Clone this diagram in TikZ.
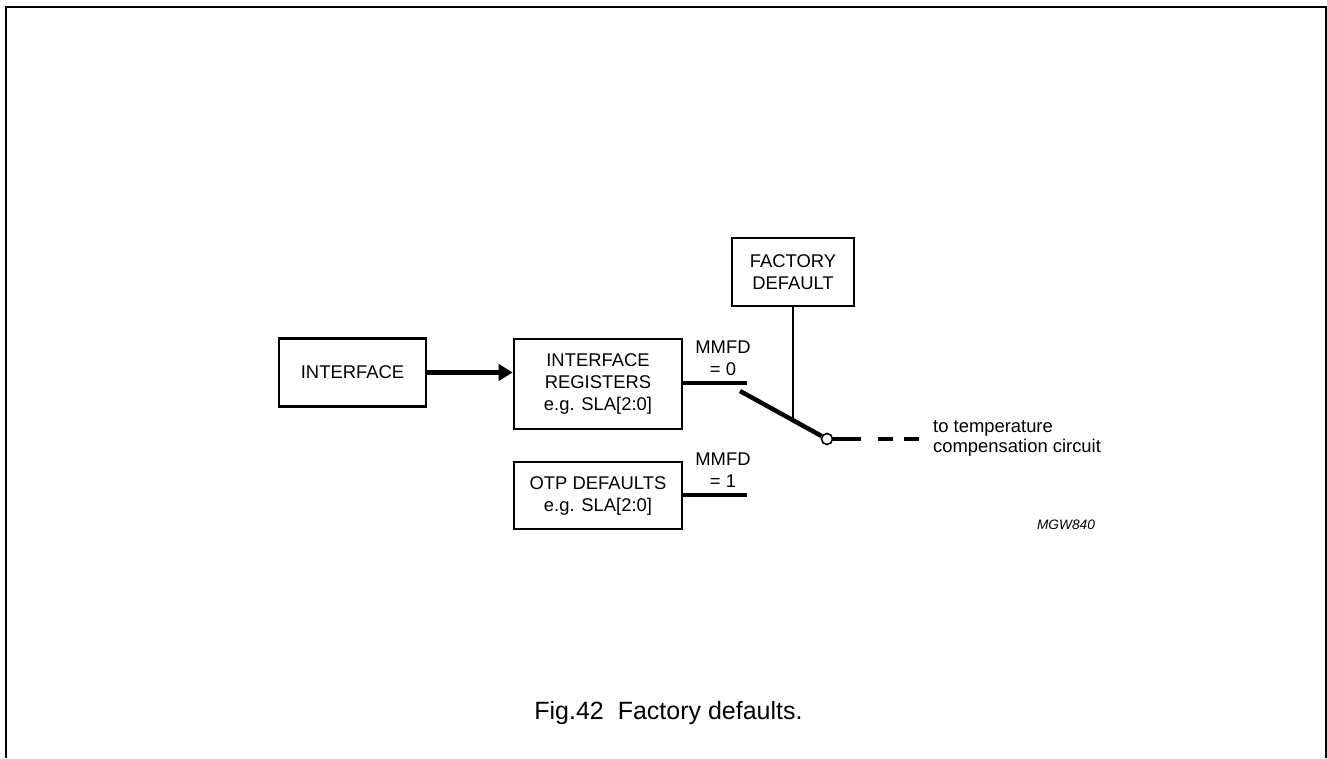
\documentclass[tikz,border=0pt]{standalone}
\usepackage{fontspec}
\setmainfont{Liberation Sans}
\usetikzlibrary{arrows.meta}
\begin{document}
\begin{tikzpicture}
% Factory defaults block diagram, one unit per pixel
\def\pxsz{1pt}
\providecommand{\fdTextSize}{\fontsize{18.4}{22}\selectfont}
\providecommand{\fdBoxLineWidth}{2.6pt}
\providecommand{\fdWireLineWidth}{4.5pt}
\tikzset{
  fdbox/.style={draw, line width=\fdBoxLineWidth, inner sep=0pt, align=center, font=\fdTextSize},
  fdlabel/.style={inner sep=0pt, align=center, font=\fdTextSize},
  fdwire/.style={line width=\fdWireLineWidth},
}
\begin{scope}[x=\pxsz, y=-\pxsz, line cap=butt, line join=miter]
  \useasboundingbox (0,0) rectangle (1327,758);
  % Page frame (open at the bottom)
  \draw[line width=1.5pt] (6,758) -- (6,7) -- (1326,7) -- (1326,758);
  % Blocks
  \node[fdbox, minimum width=147, minimum height=68] (iface) at (352.5,372.5) {INTERFACE};
  \node[fdbox, minimum width=168, minimum height=90] (ifregs) at (598,384) {INTERFACE\\REGISTERS\\e.g. SLA[2:0]};
  \node[fdbox, minimum width=168, minimum height=67] (otpdef) at (598,495.5) {OTP DEFAULTS\\e.g. SLA[2:0]};
  \node[fdbox, minimum width=122, minimum height=68] (facdef) at (793,272) {FACTORY\\DEFAULT};
  % Switch contacts and labels
  \coordinate (contA) at (747,383);
  \coordinate (contB) at (747,495);
  \coordinate (blade) at (740,391);
  \coordinate (link) at (793,418);
  \coordinate (tocomp) at (919,439);
  \node[fdlabel] (mmfdA) at (723,358) {MMFD\\= 0};
  \node[fdlabel] (mmfdB) at (723,470) {MMFD\\= 1};
  \node[draw, circle, fill=white, line width=1.6pt, minimum size=11, inner sep=0pt] (pivot) at (827,439) {};
  \node[fdlabel, anchor=west, align=left, font=\fontsize{18.4}{20}\selectfont] (totemp) at (933,438) {to temperature\\compensation circuit};
  \node[inner sep=0pt, font=\fontsize{13.7}{16}\selectfont\itshape] (mgw) at (1066,525) {MGW840};
  % Connections
  \draw[fdwire, -{Triangle[length=14pt,width=16pt]}] (iface.east) -- (iface.east -| ifregs.west);
  \draw[fdwire] (ifregs.east |- contA) -- (contA);
  \draw[fdwire] (otpdef.east |- contB) -- (contB);
  \draw[line width=1.1pt] (facdef.south) -- (link);
  \draw[fdwire] (blade) -- (pivot);
  \draw[fdwire, dash pattern=on 28pt off 17pt on 15pt off 11pt on 16pt] (pivot) -- (tocomp);
  % Caption
  \node[inner sep=0pt, font=\fontsize{25}{30}\selectfont] (caption) at (668.5,713) {Fig.42\ \ Factory defaults.};
\end{scope}
\end{tikzpicture}
\end{document}
